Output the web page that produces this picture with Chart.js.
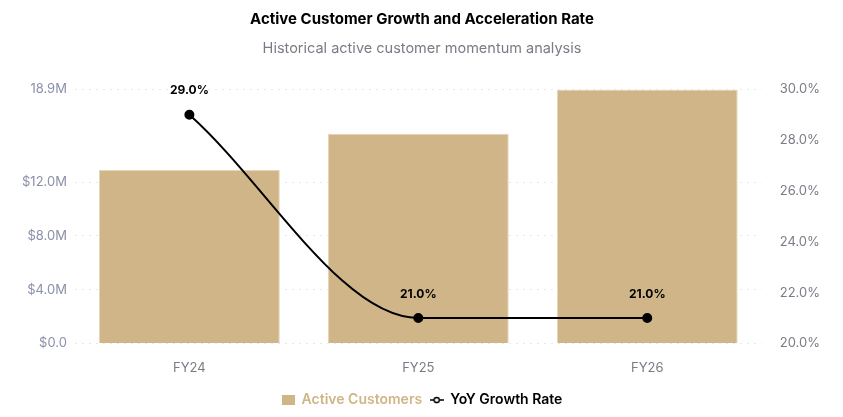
<!DOCTYPE html>
<html lang="en">
<head>
  <meta charset="UTF-8">
  <title>Active Customer Growth</title>
  <script src="https://cdn.jsdelivr.net/npm/chart.js"></script>
  <style>
    html, body { margin: 0; padding: 0; background: #ffffff; }
    #wrap { width: 843px; height: 417px; }
  </style>
</head>
<body>
  <div id="wrap"><canvas id="grafico"></canvas></div>

<script>
  // dados
  var anos = ['FY24', 'FY25', 'FY26'];
  var clientesAtivos = [12.9, 15.6, 18.9];   // em milhoes
  var crescimentoYoY = [29.0, 21.0, 21.0];   // %
  var ticksClientes = [0, 4, 8, 12, 18.9];   // marcas do eixo esquerdo
  var ticksCrescimento = [20, 22, 24, 26, 28, 30];

  var corBarra = '#CFB587';

  // icones da legenda
  function iconeBarra() {
    var c = document.createElement('canvas');
    c.width = 13; c.height = 10;
    var g = c.getContext('2d');
    g.fillStyle = corBarra;
    g.fillRect(0, 0, 13, 10);
    return c;
  }
  function iconeLinha() {
    var c = document.createElement('canvas');
    c.width = 14; c.height = 10;
    var g = c.getContext('2d');
    g.strokeStyle = '#000'; g.lineWidth = 1.5;
    g.beginPath(); g.moveTo(0, 5); g.lineTo(14, 5); g.stroke();
    g.fillStyle = '#fff';
    g.beginPath(); g.arc(7, 5, 2.6, 0, Math.PI * 2); g.fill(); g.stroke();
    return c;
  }

  // rotulos em cima dos pontos
  var rotulos = {
    id: 'rotulos',
    afterDatasetsDraw(chart) {
      var meta = chart.getDatasetMeta(1);
      var ctx = chart.ctx;
      ctx.save();
      ctx.font = 'bold 12px Inter';
      ctx.fillStyle = '#000';
      ctx.textAlign = 'center';
      ctx.textBaseline = 'middle';
      meta.data.forEach(function (p, i) {
        ctx.fillText(crescimentoYoY[i].toFixed(1) + '%', p.x, p.y - 24);
      });
      ctx.restore();
    }
  };

  var ctx = document.getElementById('grafico').getContext('2d');

  new Chart(ctx, {
    data: {
      labels: anos,
      datasets: [
        {
          type: 'bar',
          label: 'Active Customers',
          data: clientesAtivos,
          backgroundColor: corBarra,
          borderColor: '#E6D6B6',
          borderWidth: 1,
          barPercentage: 0.79,
          categoryPercentage: 1,
          yAxisID: 'y',
          order: 2
        },
        {
          type: 'line',
          label: 'YoY Growth Rate',
          data: crescimentoYoY,
          borderColor: '#000000',
          backgroundColor: '#000000',
          borderWidth: 2,
          pointRadius: 4,
          pointHoverRadius: 5,
          cubicInterpolationMode: 'monotone',
          yAxisID: 'y1',
          order: 1
        }
      ]
    },
    options: {
      responsive: true,
      maintainAspectRatio: false,
      animation: false,
      layout: { padding: { left: 14, right: 13, top: 2, bottom: 0 } },
      plugins: {
        title: {
          display: true,
          text: 'Active Customer Growth and Acceleration Rate',
          font: { family: 'Inter', size: 15, weight: 'bold' },
          color: '#000000',
          padding: { top: 8, bottom: 8 }
        },
        subtitle: {
          display: true,
          text: 'Historical active customer momentum analysis',
          font: { family: 'Inter', size: 14.5 },
          color: '#7b7b85',
          padding: { top: 4, bottom: 32 }
        },
        legend: {
          position: 'bottom',
          labels: {
            font: { family: 'Inter', size: 14, weight: '600' },
            usePointStyle: true,
            boxWidth: 13,
            boxHeight: 10,
            padding: 8,
            generateLabels: function (chart) {
              return [
                {
                  text: 'Active Customers',
                  pointStyle: iconeBarra(),
                  fontColor: corBarra,
                  datasetIndex: 0
                },
                {
                  text: 'YoY Growth Rate',
                  pointStyle: iconeLinha(),
                  fontColor: '#000000',
                  datasetIndex: 1
                }
              ];
            }
          }
        },
        tooltip: { enabled: false }
      },
      scales: {
        x: {
          grid: { display: false },
          border: { display: false },
          ticks: {
            font: { family: 'Inter', size: 13 },
            color: '#7b7b85',
            padding: 9
          }
        },
        y: {
          position: 'left',
          min: ticksClientes[0],
          max: ticksClientes[ticksClientes.length - 1],
          afterBuildTicks: function (scale) {
            scale.ticks = ticksClientes.map(function (v) { return { value: v }; });
          },
          grid: { color: '#e8e8f0', drawTicks: false },
          border: { display: false, dash: [2, 5] },
          ticks: {
            font: { family: 'Inter', size: 13 },
            color: '#8a90a8',
            padding: 8,
            callback: function (v) {
              if (v === ticksClientes[ticksClientes.length - 1]) return v.toFixed(1) + 'M';
              return v === 0 ? '$0.0' : '$' + v.toFixed(1) + 'M';
            }
          }
        },
        y1: {
          position: 'right',
          min: ticksCrescimento[0],
          max: ticksCrescimento[ticksCrescimento.length - 1],
          afterBuildTicks: function (scale) {
            scale.ticks = ticksCrescimento.map(function (v) { return { value: v }; });
          },
          grid: { display: false },
          border: { display: false },
          ticks: {
            font: { family: 'Inter', size: 13 },
            color: '#7b7b85',
            padding: 10,
            callback: function (v) { return v.toFixed(1) + '%'; }
          }
        }
      }
    },
    plugins: [rotulos]
  });
</script>
</body>
</html>
